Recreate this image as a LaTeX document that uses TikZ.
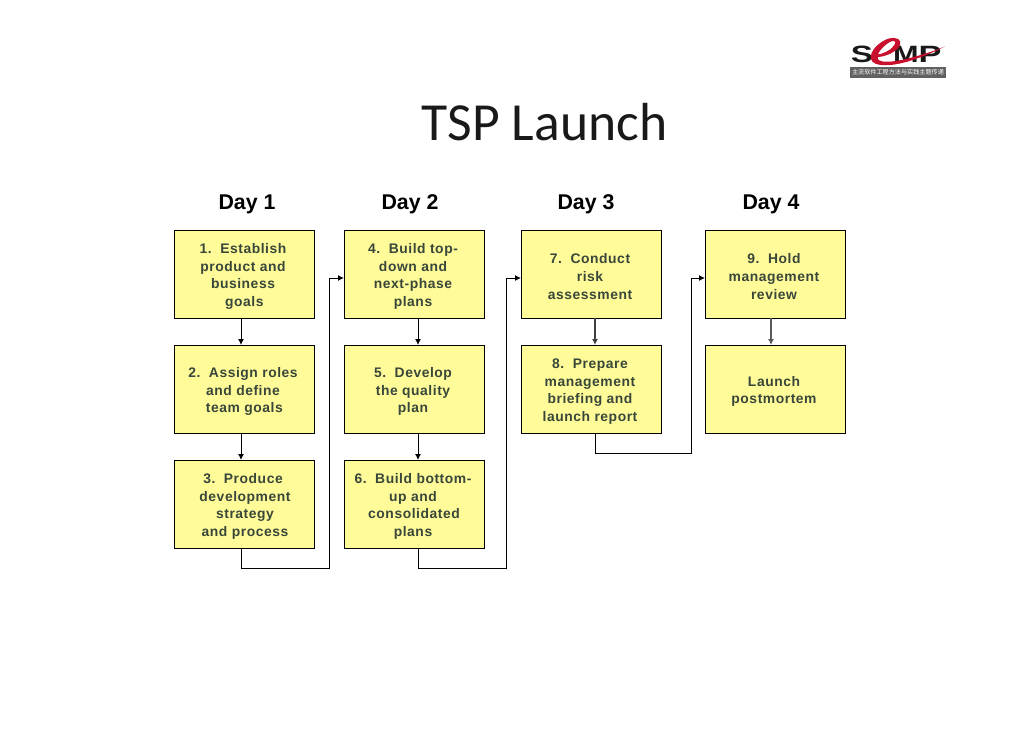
\documentclass[tikz,border=0pt]{standalone}
\usepackage{fontspec}
\setmainfont{Liberation Sans}
\newfontfamily\titlefont{Carlito}
\newfontfamily\boxfont[LetterSpace=4]{Liberation Sans Bold}
\newfontfamily\cjkfont{Noto Sans CJK SC}
\usetikzlibrary{arrows.meta}
\definecolor{boxfill}{HTML}{FFFB99}
\definecolor{boxtext}{HTML}{38473A}
\definecolor{logored}{HTML}{C8102E}
\newcommand{\gp}{\hspace{2pt}\space}
\tikzset{
  px/.style={x=0.75pt,y=-0.75pt},
  stepbox/.style={draw=black,line width=0.75pt,fill=boxfill,minimum width=105pt,minimum height=66pt,inner sep=0pt,outer sep=0pt},
  steptext/.style={inner sep=0pt,align=center,text=boxtext,font=\boxfont\fontsize{10.4}{13.25}\selectfont},
  daylabel/.style={font=\bfseries\fontsize{16}{18}\selectfont,text=black,inner sep=0pt},
  flow/.style={draw=black,line width=0.75pt,-{Latex[length=4.5pt,width=4.5pt]}},
  logoletter/.style={font=\bfseries\fontsize{17.7}{18}\selectfont,text=black!90,inner sep=0pt,anchor=base},
}
\newcommand{\stepbx}[4]{%
  \node[stepbox] (#1) at (#2,#3) {};
  \node[steptext] (#1t) at ([shift={(-1,2.5)}]#1.center) {#4};}
\begin{document}
\begin{tikzpicture}[px]
\useasboundingbox (0,0) rectangle (1030,728);
\fill[white] (0,0) rectangle (1030,728);
\node[font=\titlefont\fontsize{40.2}{42}\selectfont,text=black!90,inner sep=0pt] (title) at (544.5,122) {TSP Launch};
\node[daylabel] (d1) at (247,204) {Day 1};
\node[daylabel] (d2) at (410,204) {Day 2};
\node[daylabel] (d3) at (586,204) {Day 3};
\node[daylabel] (d4) at (771,204) {Day 4};
\stepbx{b1}{244}{274}{1.\gp Establish\\product and\\business\\\hspace{2pt}goals}
\stepbx{b2}{244}{389}{2.\gp Assign roles\\and define\\\hspace{2pt}team goals}
\stepbx{b3}{244}{504}{3.\gp Produce\\\hspace{3pt}development\\\hspace{3pt}strategy\\\hspace{3pt}and process}
\stepbx{b4}{414}{274}{4.\gp Build top-\\down and\\next-phase\\plans}
\stepbx{b5}{414}{389}{5.\gp Develop\\the quality\\plan}
\stepbx{b6}{414}{504}{6.\gp Build bottom-\\up and\\\hspace{1.5pt}consolidated\\plans}
\stepbx{b7}{591}{274}{7.\gp Conduct\\risk\\assessment}
\stepbx{b8}{591}{389}{8.\gp Prepare\\management\\briefing and\\launch report}
\stepbx{b9}{775}{274}{9.\gp Hold\\management\\review}
\stepbx{b10}{775}{389}{Launch\\postmortem}
\draw[flow] (b1.south -| 241,0) -- (b2.north -| 241,0);
\draw[flow] (b2.south -| 241,0) -- (b3.north -| 241,0);
\draw[flow] (b4.south -| 418,0) -- (b5.north -| 418,0);
\draw[flow] (b5.south -| 418,0) -- (b6.north -| 418,0);
\draw[flow,line width=1pt,black!75] (b7.south -| 595,0) -- (b8.north -| 595,0);
\draw[flow,line width=1pt,black!65] (b9.south -| 771,0) -- (b10.north -| 771,0);
\draw[flow] (b3.south -| 241,0) |- (329,568) |- ([yshift=-3pt]b4.west);
\draw[flow] (b6.south -| 418,0) |- (506,568) |- ([yshift=-3pt]b7.west);
\draw[flow] (b8.south -| 595,0) |- (691,453) |- ([yshift=-3pt]b9.west);
% logo
\fill[black!62] (850,66.5) rectangle (946,78);
\node[font=\cjkfont\fontsize{4.6}{5}\selectfont,text=white,inner sep=0pt] (logotext) at (898,72) {主流软件工程方法与实践主题传递};
\node[logoletter,xscale=1.4] (logos) at (862,62) {S};
\node[logoletter,xscale=1.3] (logom) at (906,62) {M};
\node[logoletter,xscale=1.45] (logop) at (930,62) {P};
\fill[logored] (877,54.5) .. controls (884,54) and (892,49.5) .. (895,44)
  .. controls (896.5,40.5) and (893,40) .. (889,42.5)
  .. controls (881,47.5) and (876,55) .. (878,59)
  .. controls (880,63) and (892,62.5) .. (908,58.5)
  .. controls (922,55) and (935,50.5) .. (945,46.5)
  .. controls (933,52.5) and (920,58) .. (906,62)
  .. controls (890,66.5) and (873,67) .. (871,59)
  .. controls (869,51) and (880,41) .. (889,38.5)
  .. controls (897,36.5) and (902,40) .. (900,45)
  .. controls (897,52) and (885,57) .. (877,57) -- cycle;
\end{tikzpicture}
\end{document}
